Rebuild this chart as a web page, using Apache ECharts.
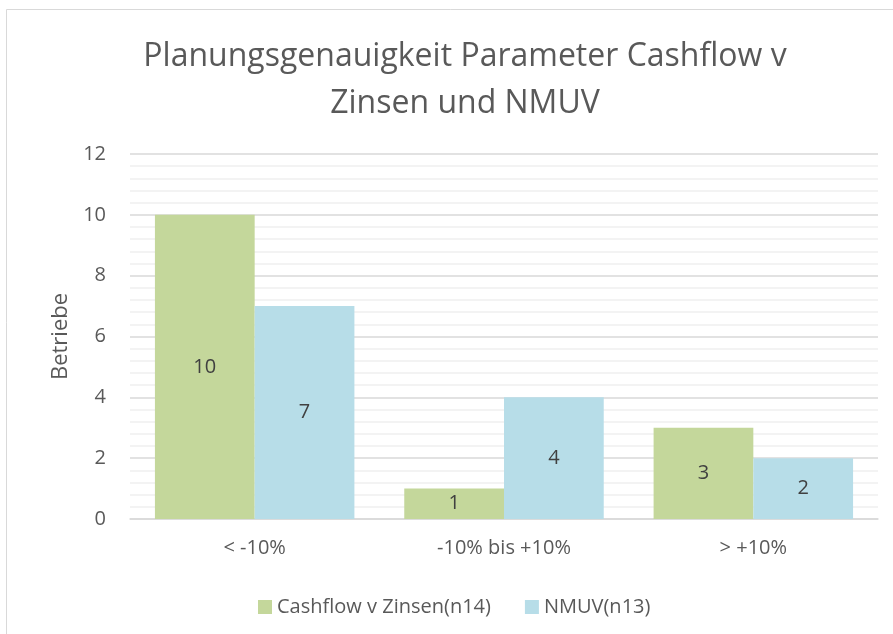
<!DOCTYPE html>
<html>
<head>
<meta charset="utf-8">
<script src="https://cdn.jsdelivr.net/npm/echarts@6/dist/echarts.min.js"></script>
<style>
  html, body { margin: 0; padding: 0; background: #fff; }
  #chart { width: 893px; height: 634px; }
</style>
</head>
<body>
<div id="chart"></div>
<script>
// Daten aus dem Diagramm
var categories = ['< -10%', '-10% bis +10%', '> +10%'];
var cashflowWerte = [10, 1, 3];
var nmuvWerte = [7, 4, 2];
var serienNamen = ['Cashflow v Zinsen(n14)', 'NMUV(n13)'];

var schrift = 'Open Sans';
var grau = '#595959';

var myChart = echarts.init(document.getElementById('chart'));

var option = {
    backgroundColor: '#fff',
    animation: false,
    graphic: [{
        type: 'rect',
        shape: { x: 6.5, y: 9.5, width: 950, height: 700 },
        style: { fill: 'none', stroke: '#d9d9d9', lineWidth: 1 },
        silent: true
    }],
    title: {
        text: 'Planungsgenauigkeit Parameter Cashflow v\nZinsen und NMUV',
        left: 460,
        top: 28,
        textAlign: 'center',
        textStyle: {
            fontFamily: schrift,
            fontSize: 32,
            fontWeight: 'normal',
            color: grau,
            lineHeight: 47
        }
    },
    legend: {
        data: serienNamen,
        top: 592,
        left: 253,
        itemWidth: 14,
        itemHeight: 14,
        itemGap: 34,
        icon: 'rect',
        textStyle: { fontFamily: schrift, fontSize: 20, color: grau }
    },
    grid: {
        left: 130,
        right: 15,
        top: 154,
        bottom: 115,
        containLabel: false
    },
    xAxis: {
        type: 'category',
        data: categories,
        axisTick: { show: false },
        axisLine: { lineStyle: { color: '#d9d9d9', width: 1.5 } },
        axisLabel: { fontFamily: schrift, fontSize: 20, color: grau, margin: 19 }
    },
    yAxis: {
        type: 'value',
        min: 0,
        max: 12,
        interval: 2,
        name: 'Betriebe',
        nameLocation: 'middle',
        nameGap: 58,
        nameTextStyle: { fontFamily: schrift, fontSize: 22, color: grau },
        axisLine: { show: false },
        axisTick: { show: false },
        axisLabel: { fontFamily: schrift, fontSize: 20, color: grau, margin: 24 },
        splitLine: { lineStyle: { color: '#d9d9d9', width: 1.5 } },
        minorTick: { show: false, splitNumber: 5 },
        minorSplitLine: { show: true, lineStyle: { color: '#f0f0f0', width: 1.5 } }
    },
    series: [{
        name: serienNamen[0],
        type: 'bar',
        data: cashflowWerte,
        barGap: '0%',
        barCategoryGap: '20%',
        itemStyle: { color: '#c4d79b' },
        label: { show: true, position: 'inside', fontFamily: schrift, fontSize: 20, color: '#404040' }
    }, {
        name: serienNamen[1],
        type: 'bar',
        data: nmuvWerte,
        itemStyle: { color: '#b7dde8' },
        label: { show: true, position: 'inside', fontFamily: schrift, fontSize: 20, color: '#404040' }
    }]
};

myChart.setOption(option);
</script>
</body>
</html>
